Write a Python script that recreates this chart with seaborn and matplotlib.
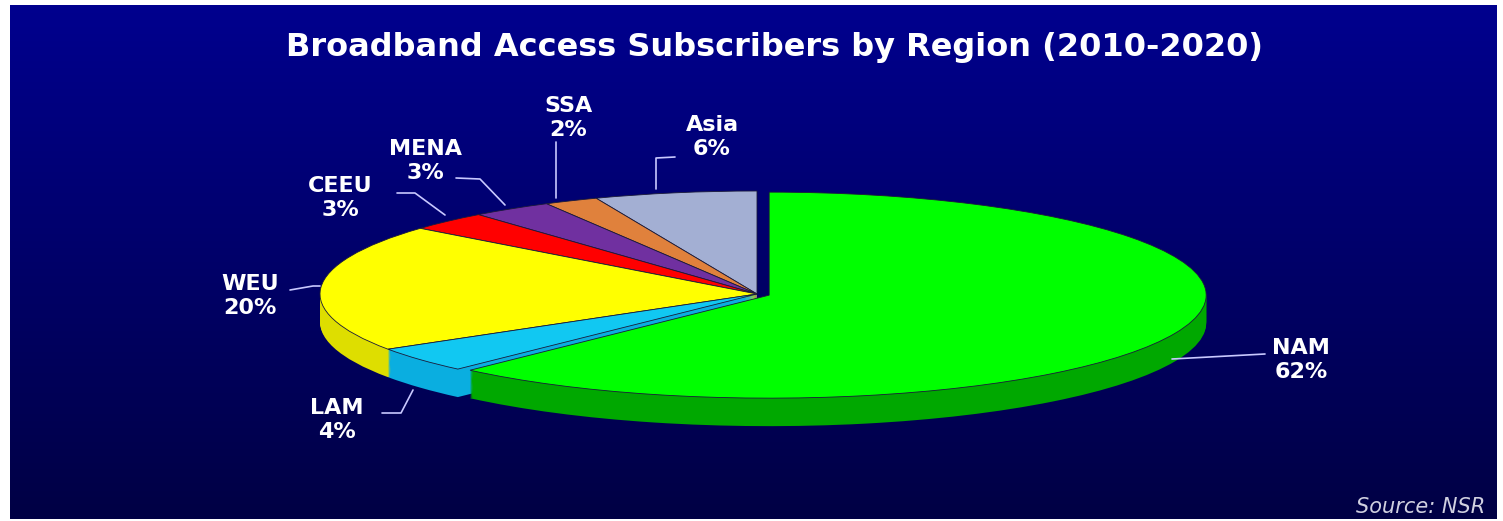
import matplotlib
matplotlib.use("Agg")
import matplotlib.pyplot as plt
from matplotlib.colors import LinearSegmentedColormap
import seaborn as sns
import numpy as np

# 样式
sns.set_style("white")
plt.rcParams['font.family'] = ['DejaVu Sans']

# 数据：从 12 点钟方向逆时针
regions = ['Asia', 'SSA', 'MENA', 'CEEU', 'WEU', 'LAM', 'NAM']
shares = [6, 2, 3, 3, 20, 4, 62]
explode = [0, 0, 0, 0, 0, 0, 0.03]
top_colors = ['#a3afd3', '#e0813c', '#7030a0', '#ff0000', '#ffff00', '#11c8f2', '#00ff00']
side_colors = ['#7d88aa', '#b0652e', '#52207a', '#c00000', '#dede00', '#0aaee0', '#00a800']

title = 'Broadband Access Subscribers by Region (2010-2020)'
source = 'Source: NSR'

# 画布几何（像素）
W, H = 1503, 521
CX, CY = 757, 294      # 饼图中心
RX, RY = 437, 103      # 椭圆半轴
DEPTH = 28             # 侧面厚度


def px(x, y):
    # 像素坐标 -> 数据坐标（单位圆）
    return (x - CX) / RX, (CY - y) / RY


# 标签位置和引线（像素）
label_layout = {
    'Asia': dict(text=(712, 137), line=[(675, 157), (656, 158), (656, 189)]),
    'SSA': dict(text=(568, 118), line=[(556, 142), (556, 198)]),
    'MENA': dict(text=(425, 161), line=[(456, 178), (480, 179), (505, 205)]),
    'CEEU': dict(text=(340, 198), line=[(397, 193), (415, 193), (445, 215)]),
    'WEU': dict(text=(250, 296), line=[(290, 290), (313, 286), (320, 286)]),
    'LAM': dict(text=(337, 420), line=[(382, 413), (401, 413), (413, 390)]),
    'NAM': dict(text=(1301, 360), line=[(1172, 359), (1265, 354)]),
}

fig = plt.figure(figsize=(W / 100, H / 100), dpi=100, facecolor='white')

# 背景渐变面板
bg_ax = fig.add_axes([10 / W, 2 / H, 1487 / W, 514 / H], zorder=0)
grad = np.linspace(0, 1, 256).reshape(-1, 1)
cmap = LinearSegmentedColormap.from_list('bg', ['#000044', '#00008e'])
bg_ax.imshow(grad, aspect='auto', cmap=cmap, origin='lower', extent=[0, 1, 0, 1])
bg_ax.axis('off')

ax = fig.add_axes([0, 0, 1, 1], zorder=1)
ax.set_facecolor('none')

# 侧面：逐层叠加形成立体效果
depth = DEPTH / RY
for d in np.linspace(depth, 0.01, 30):
    ax.pie(shares, colors=side_colors, startangle=90, explode=explode,
           center=(0, -d), wedgeprops=dict(linewidth=0))

# 顶面
ax.pie(shares, colors=top_colors, startangle=90, explode=explode,
       center=(0, 0), wedgeprops=dict(linewidth=0.6, edgecolor='#1a1a3a'))

# 标签
for name, share in zip(regions, shares):
    lay = label_layout[name]
    tx, ty = px(*lay['text'])
    ax.text(tx, ty, f'{name}\n{share}%', color='white', fontsize=16,
            fontweight='bold', ha='center', va='center',
            multialignment='center', linespacing=1.25)
    pts = np.array([px(x, y) for x, y in lay['line']])
    ax.plot(pts[:, 0], pts[:, 1], color='#c8c8ff', lw=1.2)

ax.text(*px(774, 47), title, color='white', fontsize=23, fontweight='bold',
        ha='center', va='center')
ax.text(*px(1485, 507), source, color='#d0d0e0', fontsize=15,
        fontstyle='italic', ha='right', va='center')

ax.set_aspect('auto')
ax.set_xlim(-CX / RX, (W - CX) / RX)
ax.set_ylim((CY - H) / RY, CY / RY)
ax.axis('off')

fig.savefig('out.png', dpi=100, facecolor='white')
plt.close(fig)
